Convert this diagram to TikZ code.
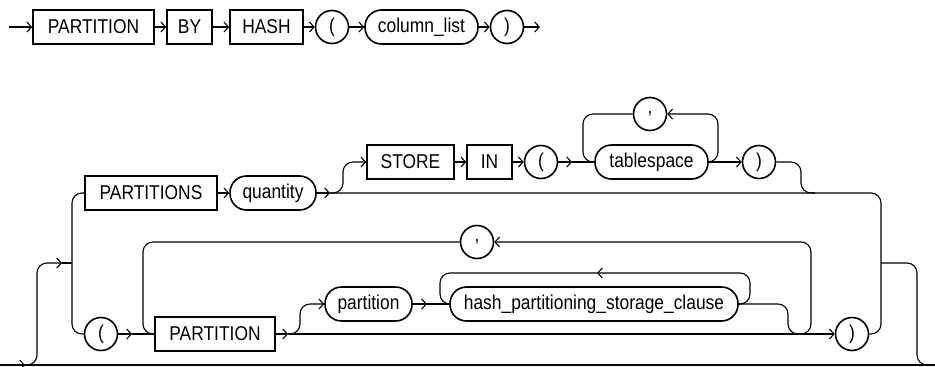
\documentclass[tikz,border=0pt]{standalone}
\usepackage{fontspec}
\setmainfont{Liberation Sans}[FakeStretch=0.87]
\usetikzlibrary{arrows.meta}

\begin{document}
\begin{tikzpicture}[x=1pt,y=-1pt,line width=1.1pt,font=\fontsize{20}{22}\selectfont,
  kw/.style={draw,line width=1.6pt,minimum height=34pt,inner sep=0pt},
  nt/.style={draw,line width=1.6pt,rounded corners=16.5pt,minimum height=34pt,inner sep=0pt},
  sym/.style={draw,circle,line width=1.6pt,minimum size=33pt,inner sep=0pt},
  arr/.style={-{Straight Barb[length=4.5pt,width=10pt]}},
  rc/.style={rounded corners=10pt}]
\useasboundingbox (0,0) rectangle (935,367);
\node[kw,minimum width=121pt] (partition) at (93.5,27) {PARTITION};
\node[kw,minimum width=45pt] (by) at (189.5,27) {BY};
\node[kw,minimum width=73pt] (hash) at (266.5,27) {HASH};
\node[sym] (lpa) at (332,27) {(};
\node[nt,minimum width=113pt] (collist) at (421.5,27) {column\_list};
\node[sym] (rpa) at (507,27) {)};
\coordinate (start) at (9,27);
\coordinate (stop) at (540,27);
\draw[arr] (start) -- (partition);
\draw[arr] (partition) -- (by);
\draw[arr] (by) -- (hash);
\draw[arr] (hash) -- (lpa);
\draw[arr] (lpa) -- (collist);
\draw[arr] (collist) -- (rpa);
\draw[arr] (rpa) -- (stop);

\node[kw,minimum width=132pt] (partitions) at (151,193) {PARTITIONS};
\node[nt,minimum width=86pt] (quantity) at (273,193) {quantity};
\node[kw,minimum width=87pt] (store) at (410.5,162) {STORE};
\node[kw,minimum width=45pt] (in) at (489.5,162) {IN};
\node[sym] (lpb) at (541,162) {(};
\node[nt,minimum width=113pt] (tbs) at (651.5,162) {tablespace};
\node[sym] (cma) at (650,114) {,};
\node[sym] (rpb) at (759,162) {)};
\node[sym] (lpc) at (101,334) {(};
\node[kw,minimum width=120pt] (partkw) at (215,334) {PARTITION};
\node[nt,minimum width=87pt] (part) at (368.5,304) {partition};
\node[nt,minimum width=288pt] (hpsc) at (594,304) {hash\_partitioning\_storage\_clause};
\node[sym] (cmb) at (477,242) {,};
\node[sym] (rpc) at (852,334) {)};

\coordinate (l0) at (0,365);
\coordinate (lin) at (25,365);
\coordinate (lout) at (935,365);
\coordinate (fork) at (62,263);
\coordinate (join) at (881,263);
\coordinate (qout) at (330,193);
\coordinate (bypass) at (815,193);
\coordinate (lpbout) at (572,162);
\coordinate (lpcout) at (132,334);
\coordinate (pout) at (288,334);
\coordinate (partout) at (427,304);
\coordinate (hloop) at (597,273);
\coordinate (hexit) at (800,334);

\draw (l0) -- (lout);
\draw[arr] (l0) -- (lin);
\draw[rc,arr] (lin) -- (37,365) -- (37,263) -- (fork);
\draw (fork) -- (72,263);
\draw[rc] (partitions.west) -- (72,193) -- (72,334) -- (lpc.west);
\draw[arr] (partitions) -- (quantity);
\draw[arr] (quantity) -- (qout);
\draw[rc] (qout) -- (881,193) -- (881,334) -- (rpc.east);
\draw[rc] (join) -- (917,263) -- (917,365) -- (lout);
\draw[rc,arr] (qout) -- (343,193) -- (343,162) -- (store.west);
\draw[arr] (store) -- (in);
\draw[arr] (in) -- (lpb);
\draw[arr] (lpb) -- (lpbout);
\draw (lpbout) -- (tbs);
\draw[rc,arr] (tbs.east) -- (718,162) -- (718,114) -- (cma.east);
\draw[rc] (cma.west) -- (583,114) -- (583,162) -- (tbs.west);
\draw[arr] (tbs) -- (rpb);
\draw[rc] (rpb.east) -- (801,162) -- (801,193) -- (bypass);

\draw[arr] (lpc) -- (lpcout);
\draw (lpcout) -- (partkw);
\draw[rc] (cmb.west) -- (143,242) -- (143,334) -- (partkw.west);
\draw[arr] (partkw) -- (pout);
\draw[arr] (pout) -- (rpc);
\draw[rc,arr] (pout) -- (300,334) -- (300,304) -- (part.west);
\draw[arr] (part) -- (partout);
\draw (partout) -- (hpsc);
\draw[rc,arr] (hpsc.east) -- (750,304) -- (750,273) -- (hloop);
\draw[rc] (hloop) -- (440,273) -- (440,304) -- (hpsc.west);
\draw[rc] (hpsc.east) -- (788,304) -- (788,334) -- (hexit);
\draw[rc,arr] (hexit) -- (811,334) -- (811,242) -- (cmb.east);
\end{tikzpicture}
\end{document}
